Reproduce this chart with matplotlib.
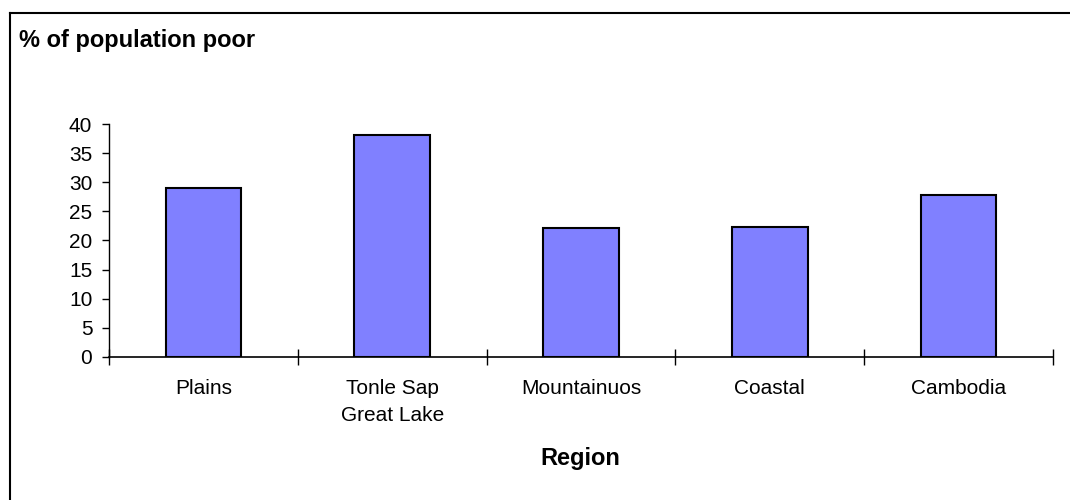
import numpy as np
import matplotlib.pyplot as plt
from matplotlib.lines import Line2D

plt.rcParams["font.family"] = ["Liberation Sans", "DejaVu Sans"]

# Share of population below the poverty line, by region
regions = ["Plains", "Tonle Sap\nGreat Lake", "Mountainuos", "Coastal", "Cambodia"]
poor_pct = [29.0, 38.1, 22.2, 22.3, 27.9]

fig = plt.figure(figsize=(10.7, 5.0), dpi=100)
ax = fig.add_axes([109 / 1070, 1 - 356.7 / 500, (1053 - 109) / 1070, (356.7 - 124.3) / 500])

x = np.arange(len(regions))
ax.bar(x, poor_pct, width=0.4, color="#8080FF", edgecolor="black", linewidth=1.5, zorder=3)

ax.set_xlim(-0.5, len(regions) - 0.5)
ax.set_ylim(0, 40)
ax.set_yticks(np.arange(0, 41, 5))

# category labels at centres, tick marks on the boundaries
ax.set_xticks(x)
ax.set_xticklabels(regions, fontsize=15, linespacing=1.55)
ax.tick_params(axis="x", which="major", length=0, pad=16)
ax.set_xticks(np.arange(-0.5, len(regions)), minor=True)
ax.tick_params(axis="x", which="minor", direction="inout", length=12, width=1)
ax.tick_params(axis="y", direction="out", length=5, width=1, labelsize=15, pad=7)

for side in ["top", "right"]:
    ax.spines[side].set_visible(False)
ax.spines["left"].set_linewidth(1)
ax.spines["bottom"].set_linewidth(1.2)

fig.text(19 / 1070, 1 - 47 / 500, "% of population poor", fontsize=17, fontweight="bold",
         ha="left", va="baseline")
fig.text(580 / 1070, 1 - 465 / 500, "Region", fontsize=17, fontweight="bold",
         ha="center", va="baseline")

# chart area border (left and top edges)
fig.add_artist(Line2D([9.5 / 1070, 9.5 / 1070], [0, 1 - 13 / 500], color="black", lw=1.5,
                      transform=fig.transFigure))
fig.add_artist(Line2D([9.5 / 1070, 1], [1 - 13 / 500, 1 - 13 / 500], color="black", lw=1.5,
                      transform=fig.transFigure))

fig.savefig("out.png", dpi=100)
